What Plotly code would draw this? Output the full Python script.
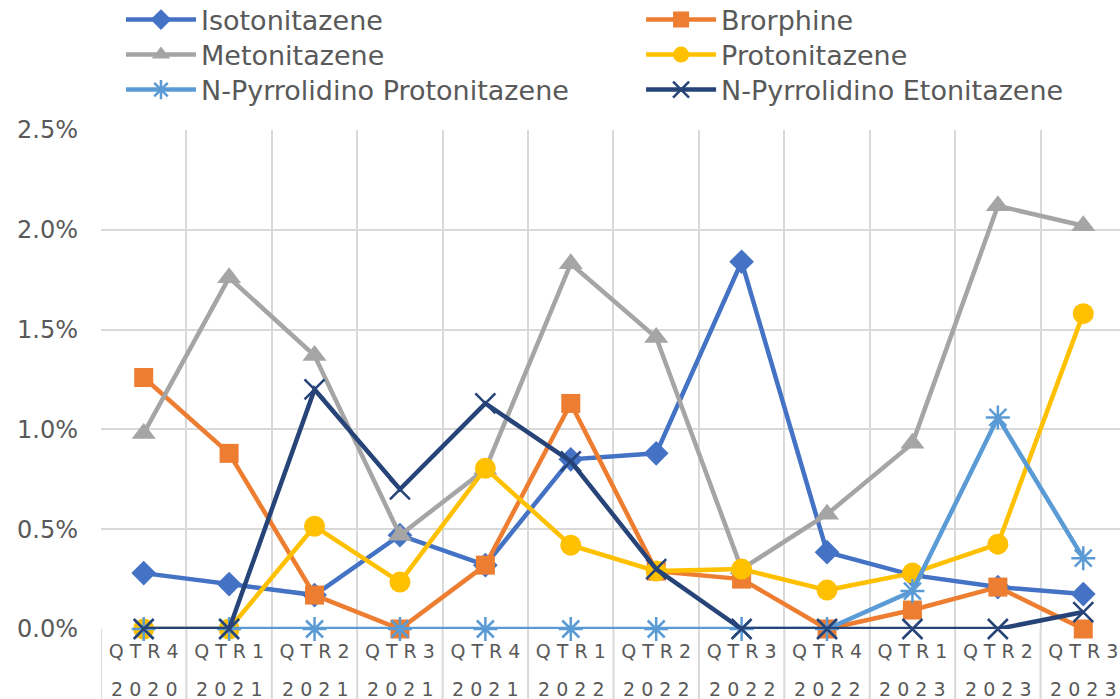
import plotly.graph_objects as go

quarters = ["QTR4", "QTR1", "QTR2", "QTR3", "QTR4", "QTR1", "QTR2", "QTR3", "QTR4", "QTR1", "QTR2", "QTR3"]
years = ["2020", "2021", "2021", "2021", "2021", "2022", "2022", "2022", "2022", "2023", "2023", "2023"]

isotonitazene = [0.28, 0.225, 0.17, 0.47, 0.32, 0.85, 0.88, 1.84, 0.385, 0.27, 0.21, 0.175]
brorphine = [1.26, 0.88, 0.17, 0.0, 0.32, 1.13, 0.29, 0.25, 0.0, 0.095, 0.21, 0.0]
metonitazene = [0.98, 1.76, 1.37, 0.47, 0.80, 1.83, 1.46, 0.30, 0.575, 0.93, 2.12, 2.02]
protonitazene = [0.0, 0.0, 0.515, 0.235, 0.805, 0.42, 0.29, 0.30, 0.195, 0.28, 0.425, 1.58]
np_protonitazene = [0.0, 0.0, 0.0, 0.0, 0.0, 0.0, 0.0, 0.0, 0.0, 0.19, 1.06, 0.355]
np_etonitazene = [0.0, 0.0, 1.20, 0.70, 1.13, 0.84, 0.30, 0.0, 0.0, 0.0, 0.0, 0.085]

y_ticks = [0.0, 0.5, 1.0, 1.5, 2.0, 2.5]
y_ticktext = [f"{v:.1f}%" for v in y_ticks]

cats = [f"{q} {y}" for q, y in zip(quarters, years)]
spaced = lambda s: " ".join(list(s))

series = [
    ("Isotonitazene", isotonitazene, "#4472C4", "diamond", 19, None),
    ("Brorphine", brorphine, "#ED7D31", "square", 19, None),
    ("Metonitazene", metonitazene, "#A5A5A5", "triangle-up", 21, None),
    ("Protonitazene", protonitazene, "#FFC000", "circle", 21, None),
    ("N-Pyrrolidino Protonitazene", np_protonitazene, "#5B9BD5", "asterisk-open", 20, 2.5),
    ("N-Pyrrolidino Etonitazene", np_etonitazene, "#264478", "x-thin-open", 20, 2.5),
]

# legend slots: (x paper, y container) for each entry, two columns x three rows
legend_pos = [(0.0196, 0.9714), (0.530, 0.9714),
              (0.0196, 0.9213), (0.530, 0.9213),
              (0.0196, 0.8712), (0.530, 0.8712)]

fig = go.Figure()
legend_layouts = {}
for k, (name, vals, color, sym, size, lw) in enumerate(series):
    marker = dict(symbol=sym, size=size, color=color)
    if lw:
        marker["line"] = dict(color=color, width=lw)
    else:
        marker["line"] = dict(width=0)
    lid = "legend" if k == 0 else f"legend{k + 1}"
    fig.add_trace(go.Scatter(
        x=cats, y=vals, name=name, mode="lines+markers", legend=lid,
        line=dict(color=color, width=4.5), marker=marker, cliponaxis=False,
    ))
    lx, ly = legend_pos[k]
    legend_layouts[lid] = dict(x=lx, y=ly, xref="paper", yref="container",
                               xanchor="left", yanchor="middle",
                               font=dict(size=27, color="#595959"), itemwidth=70,
                               bgcolor="rgba(0,0,0,0)")

grid = "#D9D9D9"
shapes = []
for i in range(len(cats) + 1):
    shapes.append(dict(type="line", xref="x", yref="paper", x0=i - 0.5, x1=i - 0.5,
                       y0=-0.15, y1=0, line=dict(color=grid, width=2), layer="below"))

annotations = []
for c, y in zip(cats, years):
    annotations.append(dict(x=c, y=0, xref="x", yref="paper", yshift=-60, text=spaced(y),
                            showarrow=False, font=dict(size=19, color="#595959"),
                            yanchor="middle"))

fig.update_layout(
    width=1120, height=699,
    margin=dict(l=101, r=0, t=130, b=70),
    paper_bgcolor="white", plot_bgcolor="white",
    font=dict(family="DejaVu Sans", color="#595959"),
    showlegend=True,
    xaxis=dict(type="category", range=[-0.5, 11.43], tickmode="array", tickvals=cats,
               ticktext=[spaced(q) for q in quarters], tickson="boundaries",
               showgrid=True, gridcolor=grid, gridwidth=2, ticks="", showline=False,
               zeroline=False, tickfont=dict(size=19, color="#595959"),
               ticklabelstandoff=9, automargin=False),
    yaxis=dict(range=[0, 2.5], tickmode="array", tickvals=y_ticks, ticktext=y_ticktext,
               showgrid=True, gridcolor=grid, gridwidth=2, zeroline=False, showline=False,
               tickfont=dict(size=24, color="#595959"), ticklabelstandoff=22,
               automargin=False),
    shapes=shapes, annotations=annotations,
    **legend_layouts,
)

# remove the default page margin so the 1120x699 figure fills the window exactly
fig.write_html("out.html", config={"displayModeBar": False},
               post_script="document.body.style.margin='0';document.body.style.overflow='hidden';")
